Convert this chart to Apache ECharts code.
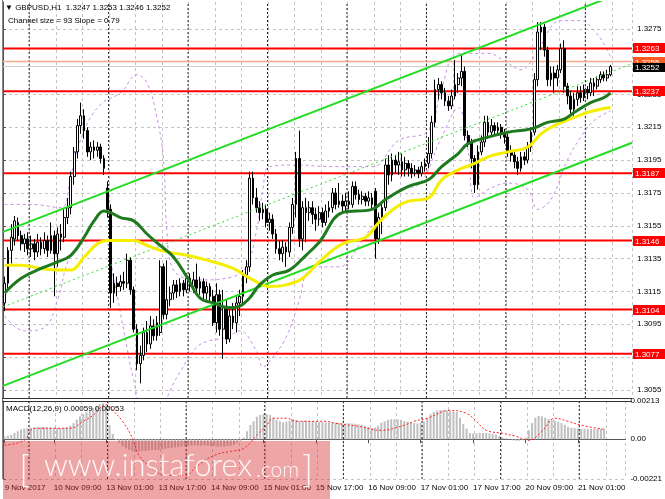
<!DOCTYPE html>
<html>
<head>
<meta charset="utf-8">
<script src="https://cdn.jsdelivr.net/npm/echarts@6/dist/echarts.min.js"></script>
<style>
html,body{margin:0;padding:0;background:#fff}
#chart{width:665px;height:499px}
</style>
</head>
<body>
<div id="chart"></div>
<script>
// GBPUSD H1, 9 Nov .. 21 Nov 2017
// bar 0 = 9 Nov 18:00, one bar per trading hour

var opens = [
  1.3108,1.3120,1.3140,1.3147,1.3157,1.3149,1.3144,1.3147,1.3141,1.3144,
  1.3139,1.3145,1.3141,1.3146,1.3140,1.3149,1.3138,1.3150,1.3148,1.3160,
  1.3166,1.3185,1.3200,1.3216,1.3222,1.3213,1.3200,1.3203,1.3201,1.3203,
  1.3196,1.3178,1.3165,1.3114,1.3120,1.3118,1.3121,1.3120,1.3134,1.3116,
  1.3092,1.3071,1.3076,1.3090,1.3083,1.3094,1.3088,1.3090,1.3130,1.3101,
  1.3110,1.3114,1.3119,1.3115,1.3120,1.3116,1.3123,1.3118,1.3122,1.3117,
  1.3121,1.3114,1.3118,1.3112,1.3096,1.3113,1.3092,1.3106,1.3086,1.3100,
  1.3096,1.3108,1.3112,1.3125,1.3130,1.3184,1.3172,1.3166,1.3163,1.3165,
  1.3157,1.3159,1.3150,1.3141,1.3138,1.3142,1.3139,1.3154,1.3168,1.3196,
  1.3147,1.3166,1.3163,1.3166,1.3162,1.3159,1.3163,1.3157,1.3164,1.3166,
  1.3175,1.3168,1.3170,1.3167,1.3170,1.3168,1.3179,1.3174,1.3171,1.3173,
  1.3170,1.3172,1.3176,1.3147,1.3160,1.3166,1.3192,1.3186,1.3195,1.3192,
  1.3194,1.3189,1.3193,1.3190,1.3187,1.3189,1.3187,1.3191,1.3193,1.3199,
  1.3218,1.3238,1.3241,1.3236,1.3231,1.3228,1.3234,1.3241,1.3245,1.3249,
  1.3210,1.3206,1.3196,1.3180,1.3200,1.3206,1.3218,1.3212,1.3216,1.3213,
  1.3215,1.3211,1.3209,1.3200,1.3198,1.3194,1.3190,1.3197,1.3195,1.3203,
  1.3212,1.3244,1.3273,1.3276,1.3262,1.3244,1.3248,1.3245,1.3250,1.3263,
  1.3240,1.3234,1.3226,1.3232,1.3236,1.3233,1.3238,1.3236,1.3242,1.3240,
  1.3244,1.3247,1.3245,1.3247
];
var closes = [
  1.3120,1.3140,1.3148,1.3158,1.3149,1.3144,1.3147,1.3141,1.3144,1.3139,
  1.3145,1.3141,1.3146,1.3140,1.3149,1.3138,1.3150,1.3148,1.3160,1.3166,
  1.3185,1.3200,1.3216,1.3222,1.3213,1.3200,1.3203,1.3201,1.3203,1.3196,
  1.3190,1.3165,1.3114,1.3120,1.3118,1.3121,1.3120,1.3134,1.3116,1.3092,
  1.3071,1.3076,1.3090,1.3083,1.3094,1.3088,1.3096,1.3130,1.3101,1.3110,
  1.3114,1.3119,1.3115,1.3120,1.3116,1.3123,1.3118,1.3122,1.3117,1.3121,
  1.3114,1.3118,1.3112,1.3096,1.3113,1.3092,1.3106,1.3086,1.3100,1.3096,
  1.3108,1.3112,1.3125,1.3130,1.3184,1.3172,1.3166,1.3163,1.3165,1.3157,
  1.3159,1.3150,1.3141,1.3138,1.3142,1.3139,1.3154,1.3168,1.3196,1.3147,
  1.3166,1.3163,1.3166,1.3162,1.3159,1.3163,1.3157,1.3164,1.3166,1.3175,
  1.3168,1.3170,1.3167,1.3170,1.3168,1.3179,1.3174,1.3171,1.3173,1.3170,
  1.3172,1.3168,1.3147,1.3160,1.3166,1.3192,1.3186,1.3195,1.3192,1.3194,
  1.3189,1.3193,1.3190,1.3187,1.3189,1.3187,1.3191,1.3193,1.3199,1.3218,
  1.3238,1.3241,1.3236,1.3231,1.3228,1.3234,1.3241,1.3245,1.3249,1.3210,
  1.3206,1.3196,1.3180,1.3200,1.3206,1.3218,1.3212,1.3216,1.3213,1.3215,
  1.3211,1.3209,1.3200,1.3198,1.3194,1.3190,1.3197,1.3195,1.3203,1.3212,
  1.3244,1.3273,1.3276,1.3262,1.3244,1.3248,1.3245,1.3250,1.3263,1.3240,
  1.3234,1.3226,1.3232,1.3236,1.3233,1.3238,1.3236,1.3242,1.3240,1.3244,
  1.3247,1.3245,1.3247,1.3252
];
var lows = [
  1.3103,1.3116,1.3132,1.3143,1.3146,1.3140,1.3139,1.3137,1.3136,1.3134,
  1.3136,1.3137,1.3138,1.3136,1.3138,1.3112,1.3130,1.3140,1.3145,1.3156,
  1.3162,1.3180,1.3196,1.3211,1.3208,1.3197,1.3195,1.3196,1.3197,1.3193,
  1.3186,1.3160,1.3105,1.3108,1.3112,1.3115,1.3116,1.3117,1.3113,1.3090,
  1.3067,1.3059,1.3073,1.3078,1.3080,1.3085,1.3085,1.3088,1.3098,1.3098,
  1.3106,1.3110,1.3111,1.3112,1.3112,1.3114,1.3115,1.3114,1.3113,1.3113,
  1.3110,1.3110,1.3108,1.3094,1.3090,1.3088,1.3074,1.3083,1.3084,1.3092,
  1.3090,1.3100,1.3108,1.3120,1.3127,1.3168,1.3163,1.3158,1.3159,1.3154,
  1.3152,1.3147,1.3138,1.3134,1.3133,1.3130,1.3136,1.3150,1.3160,1.3142,
  1.3140,1.3145,1.3158,1.3156,1.3152,1.3155,1.3154,1.3155,1.3160,1.3163,
  1.3165,1.3166,1.3163,1.3164,1.3165,1.3166,1.3171,1.3168,1.3168,1.3167,
  1.3167,1.3165,1.3135,1.3144,1.3150,1.3164,1.3180,1.3182,1.3187,1.3186,
  1.3185,1.3185,1.3185,1.3184,1.3185,1.3184,1.3185,1.3188,1.3190,1.3196,
  1.3215,1.3232,1.3232,1.3228,1.3225,1.3226,1.3232,1.3236,1.3240,1.3207,
  1.3203,1.3190,1.3175,1.3177,1.3198,1.3203,1.3208,1.3209,1.3210,1.3210,
  1.3208,1.3205,1.3197,1.3194,1.3190,1.3186,1.3188,1.3192,1.3193,1.3200,
  1.3210,1.3240,1.3262,1.3258,1.3240,1.3240,1.3236,1.3240,1.3248,1.3236,
  1.3229,1.3222,1.3222,1.3228,1.3230,1.3231,1.3232,1.3234,1.3234,1.3238,
  1.3242,1.3243,1.3243,1.3246
];
var highs = [
  1.3124,1.3142,1.3156,1.3161,1.3160,1.3152,1.3150,1.3151,1.3149,1.3147,
  1.3150,1.3148,1.3151,1.3149,1.3157,1.3152,1.3154,1.3156,1.3165,1.3172,
  1.3188,1.3203,1.3220,1.3230,1.3226,1.3215,1.3206,1.3207,1.3206,1.3205,
  1.3198,1.3182,1.3168,1.3126,1.3124,1.3125,1.3127,1.3138,1.3136,1.3118,
  1.3095,1.3082,1.3093,1.3097,1.3100,1.3098,1.3100,1.3134,1.3132,1.3134,
  1.3118,1.3122,1.3122,1.3123,1.3122,1.3126,1.3126,1.3127,1.3132,1.3124,
  1.3123,1.3121,1.3120,1.3116,1.3120,1.3116,1.3116,1.3110,1.3106,1.3108,
  1.3112,1.3116,1.3128,1.3134,1.3188,1.3188,1.3178,1.3170,1.3169,1.3168,
  1.3163,1.3162,1.3153,1.3146,1.3146,1.3145,1.3157,1.3172,1.3200,1.3213,
  1.3170,1.3172,1.3170,1.3170,1.3166,1.3167,1.3166,1.3168,1.3170,1.3178,
  1.3178,1.3181,1.3174,1.3175,1.3176,1.3182,1.3182,1.3177,1.3176,1.3175,
  1.3176,1.3175,1.3178,1.3163,1.3170,1.3196,1.3198,1.3199,1.3198,1.3200,
  1.3199,1.3197,1.3195,1.3193,1.3192,1.3191,1.3194,1.3196,1.3209,1.3222,
  1.3244,1.3245,1.3243,1.3239,1.3234,1.3238,1.3256,1.3248,1.3259,1.3252,
  1.3213,1.3208,1.3198,1.3204,1.3210,1.3222,1.3222,1.3220,1.3218,1.3218,
  1.3217,1.3214,1.3211,1.3204,1.3201,1.3197,1.3200,1.3200,1.3206,1.3215,
  1.3248,1.3279,1.3279,1.3278,1.3264,1.3252,1.3252,1.3253,1.3266,1.3268,
  1.3242,1.3237,1.3236,1.3240,1.3240,1.3241,1.3240,1.3245,1.3245,1.3246,
  1.3249,1.3249,1.3250,1.3253
];

// indicator lines, [bar, price] read at points along the curves
var maGreen = [[0,1.3114],[5,1.3123],[11,1.3129],[16,1.3133],[20,1.3137],[24,1.3148],[27,1.3158],
  [30,1.3164],[32,1.3163],[35,1.3160],[39,1.3158],[43,1.3150],[47,1.3143],[51,1.3136],[55,1.3124],
  [59,1.3111],[63,1.3108],[68,1.3105],[71,1.3106],[74,1.3111],[77,1.3119],[81,1.3125],[86,1.3128],
  [91,1.3137],[95,1.3145],[102,1.3163],[111,1.3165],[115,1.3171],[122,1.3179],[128,1.3183],
  [132,1.3191],[137,1.3199],[140,1.3205],[146,1.3209],[152,1.3212],[159,1.3214],[164,1.3218],
  [169,1.3220],[172,1.3224],[177,1.3230],[181,1.3233],[183,1.3236]];
var maYellow = [[0,1.3131],[5,1.3131],[11,1.3129],[16,1.3128],[20,1.3128],[24,1.3136],[28,1.3144],
  [31,1.3146],[39,1.3146],[43,1.3143],[47,1.3140],[55,1.3137],[63,1.3133],[69,1.3129],[75,1.3122],
  [80,1.3118],[85,1.3119],[90,1.3123],[95,1.3133],[102,1.3144],[109,1.3148],[113,1.3157],
  [118,1.3166],[122,1.3170],[128,1.3172],[132,1.3183],[137,1.3189],[142,1.3193],[146,1.3197],
  [152,1.3200],[158,1.3203],[162,1.3211],[166,1.3216],[172,1.3221],[176,1.3224],[180,1.3226],
  [183,1.3227]];
var bandUpper = [[0,1.3168],[8,1.3168],[17,1.3166],[20,1.3186],[24,1.3213],[29,1.3229],[35,1.3236],
  [40,1.3247],[43,1.3242],[46,1.3221],[48,1.3195],[49,1.3152],[51,1.3128],[59,1.3122],[69,1.3124],
  [73,1.3130],[76,1.3151],[78,1.3177],[80,1.3191],[88,1.3192],[99,1.3191],[111,1.3191],
  [119,1.3207],[128,1.3213],[132,1.3239],[137,1.3260],[146,1.3260],[152,1.3254],[156,1.3250],
  [160,1.3258],[168,1.3280],[174,1.3280],[178,1.3274],[181,1.3266],[183,1.3258]];
var bandLower = [[0,1.3100],[6,1.3091],[12,1.3093],[16,1.3110],[20,1.3137],[26,1.3146],[30,1.3146],
  [33,1.3122],[36,1.3091],[39,1.3061],[42,1.3043],[47,1.3043],[50,1.3055],[53,1.3066],[58,1.3081],
  [62,1.3085],[67,1.3087],[71,1.3091],[76,1.3079],[78,1.3069],[81,1.3075],[85,1.3087],[89,1.3110],
  [91,1.3126],[93,1.3130],[101,1.3130],[107,1.3143],[113,1.3161],[119,1.3177],[125,1.3180],
  [132,1.3209],[137,1.3227],[140,1.3201],[142,1.3172],[146,1.3177],[152,1.3181],[158,1.3177],
  [161,1.3165],[165,1.3171],[170,1.3195],[174,1.3209],[178,1.3219],[183,1.3225]];

// regression channel, ends at the left and right plot edges
var channelUpper = [[-0.5,1.31513],[189.5,1.32994]];
var channelMiddle = [[-0.5,1.31056],[189.5,1.32537]];
var channelLower = [[-0.5,1.30575],[189.5,1.32056]];

var levels = [1.3263,1.3237,1.3187,1.3146,1.3104,1.3077];
var askLine = 1.3255;
var bidLine = 1.3252;
var priceTicks = [1.3055,1.3075,1.3095,1.3115,1.3135,1.3155,1.3175,1.3195,1.3215,1.3235,1.3255,1.3275];
var priceMin = 1.30501, priceMax = 1.32913;

var macdHist = [
  0.00015,0.00020,0.00025,0.00035,0.00045,0.00055,0.00060,0.00062,0.00064,0.00066,
  0.00067,0.00068,0.00068,0.00067,0.00066,0.00064,0.00063,0.00063,0.00065,0.00068,
  0.00075,0.00090,0.00110,0.00128,0.00140,0.00150,0.00160,0.00172,0.00183,0.00195,
  0.00200,0.00190,0.00080,0.00030,-0.00005,-0.00020,-0.00040,-0.00050,-0.00058,-0.00065,
  -0.00070,-0.00068,-0.00066,-0.00064,-0.00062,-0.00060,-0.00060,-0.00058,-0.00055,-0.00052,
  -0.00050,-0.00048,-0.00045,-0.00042,-0.00040,-0.00038,-0.00036,-0.00035,-0.00034,-0.00035,
  -0.00036,-0.00034,-0.00036,-0.00040,-0.00038,-0.00042,-0.00040,-0.00042,-0.00038,-0.00036,
  -0.00030,-0.00020,-0.00010,0.00010,0.00045,0.00080,0.00100,0.00125,0.00135,0.00140,
  0.00140,0.00135,0.00120,0.00108,0.00100,0.00095,0.00098,0.00102,0.00112,0.00108,
  0.00100,0.00102,0.00104,0.00103,0.00100,0.00098,0.00096,0.00095,0.00094,0.00094,
  0.00093,0.00092,0.00090,0.00090,0.00088,0.00090,0.00088,0.00086,0.00084,0.00080,
  0.00075,0.00070,0.00062,0.00065,0.00075,0.00092,0.00100,0.00108,0.00112,0.00112,
  0.00110,0.00108,0.00102,0.00098,0.00094,0.00090,0.00088,0.00090,0.00098,0.00118,
  0.00140,0.00152,0.00160,0.00163,0.00162,0.00160,0.00158,0.00155,0.00152,0.00120,
  0.00085,0.00060,0.00035,0.00032,0.00033,0.00036,0.00035,0.00034,0.00033,0.00030,
  0.00025,0.00018,0.00010,0.00005,-0.00002,-0.00006,-0.00008,-0.00008,-0.00005,0.00010,
  0.00050,0.00090,0.00120,0.00130,0.00128,0.00120,0.00112,0.00105,0.00102,0.00098,
  0.00090,0.00080,0.00070,0.00064,0.00062,0.00060,0.00058,0.00058,0.00058,0.00057,
  0.00058,0.00058,0.00058,0.00059
];
var macdSignal = [[0,-0.00033],[6,-0.00006],[9,0.00061],[15,0.00061],[20,0.00061],[24,0.00100],
  [27,0.00133],[31,0.00194],[33,0.00161],[36,0.00100],[39,0.00006],[41,-0.00089],[45,-0.00161],
  [49,-0.00200],[55,-0.00200],[59,-0.00144],[64,-0.00089],[69,-0.00067],[73,-0.00050],[77,0.00022],
  [80,0.00078],[82,0.00117],[86,0.00117],[89,0.00100],[98,0.00100],[101,0.00089],[108,0.00072],
  [115,0.00050],[122,0.00078],[125,0.00100],[129,0.00117],[136,0.00161],[141,0.00144],[144,0.00100],
  [147,0.00050],[152,0.00033],[156,0.00017],[160,-0.00006],[164,0.00044],[168,0.00117],[172,0.00100],
  [176,0.00078],[183,0.00055]];
var macdTicks = [-0.00221,0,0.00213];
var macdMin = -0.00221, macdMax = 0.00213;

var timeLabels = ['9 Nov 2017','10 Nov 09:00','13 Nov 01:00','13 Nov 17:00','14 Nov 09:00','15 Nov 01:00',
  '15 Nov 17:00','16 Nov 09:00','17 Nov 01:00','17 Nov 17:00','20 Nov 09:00','21 Nov 01:00'];
var timeLabelBars = [0,15,31,47,63,79,95,111,127,143,159,175];
var daySeparators = [7.4,31.4,55.4,79.4,103.4,127.4,151.4,175.4];

var BARS = 190;
var FONT = 'Tahoma,"Liberation Sans",Arial,sans-serif';
var FS = 8;

var cats = [];
for (var i = 0; i < BARS; i++) cats.push(String(i));

var candles = [];
for (var i = 0; i < opens.length; i++) candles.push([opens[i], closes[i], lows[i], highs[i]]);

// overlay series sit on a value axis 0..190, bar i centred at i+0.5
function shift(pts) {
  return pts.map(function (p) { return [p[0] + 0.5, p[1]]; });
}
function isLabelBar(idx) { return timeLabelBars.indexOf(idx) >= 0; }

var gridLine = { color: '#c4c4c4', type: [3, 3], width: 1 };

function plainLine(xAxisIndex, yAxisIndex, data, style, extra) {
  var s = { type: 'line', xAxisIndex: xAxisIndex, yAxisIndex: yAxisIndex, data: data,
            symbol: 'none', silent: true, lineStyle: style };
  if (extra) for (var k in extra) s[k] = extra[k];
  return s;
}

var series = [];

// day separators, both panes
daySeparators.forEach(function (v) {
  series.push(plainLine(1, 0, [[v + 0.5, priceMin], [v + 0.5, priceMax]], { color: '#222', type: [2, 2], width: 1 }));
  series.push(plainLine(3, 1, [[v + 0.5, macdMin], [v + 0.5, macdMax]], { color: '#222', type: [2, 2], width: 1 }));
});

series.push(plainLine(1, 0, shift(bandUpper), { color: '#c98de8', width: 1, type: [3, 3] }, { smooth: 0.4 }));
series.push(plainLine(1, 0, shift(bandLower), { color: '#c98de8', width: 1, type: [3, 3] }, { smooth: 0.4 }));

// horizontal levels
levels.forEach(function (v) {
  series.push(plainLine(1, 0, [[0, v], [BARS, v]], { color: '#ff0000', width: 2 }, { z: 3 }));
});
series.push(plainLine(1, 0, [[0, askLine], [BARS, askLine]], { color: '#f6a88c', width: 1.5 }, { z: 3 }));
series.push(plainLine(1, 0, [[0, bidLine], [BARS, bidLine]], { color: '#cfcfcf', width: 1 }, { z: 3 }));

series.push({ type: 'candlestick', xAxisIndex: 0, yAxisIndex: 0, data: candles, barWidth: '68%', z: 5,
  itemStyle: { color: '#ffffff', color0: '#000000', borderColor: '#000000', borderColor0: '#000000', borderWidth: 1 } });

series.push(plainLine(1, 0, shift(channelMiddle), { color: '#33dd33', width: 1, type: [2, 3] }, { z: 6 }));
series.push(plainLine(1, 0, shift(channelUpper), { color: '#22dd22', width: 2 }, { z: 6 }));
series.push(plainLine(1, 0, shift(channelLower), { color: '#22dd22', width: 2 }, { z: 6 }));
series.push(plainLine(1, 0, shift(maYellow), { color: '#f6ee00', width: 3 }, { smooth: 0.4, z: 6 }));
series.push(plainLine(1, 0, shift(maGreen), { color: '#1f7a1f', width: 3 }, { smooth: 0.4, z: 6 }));

series.push({ type: 'bar', xAxisIndex: 2, yAxisIndex: 1, data: macdHist, barWidth: '62%',
  itemStyle: { color: '#c0c0c0' } });
series.push(plainLine(3, 1, shift(macdSignal), { color: '#ff2020', width: 1, type: [2, 2] }, { smooth: 0.4, z: 6 }));

var graphics = [
  { type: 'line', shape: { x1: 2.5, y1: 0, x2: 2.5, y2: 479 }, style: { stroke: '#888', lineWidth: 1 }, z: 50 },
  { type: 'line', shape: { x1: 2, y1: 398.5, x2: 632, y2: 398.5 }, style: { stroke: '#333', lineWidth: 1 }, z: 50 },
  { type: 'line', shape: { x1: 2, y1: 401.5, x2: 632, y2: 401.5 }, style: { stroke: '#333', lineWidth: 1 }, z: 50 },
  { type: 'text', left: 5, top: 4, z: 60,
    style: { text: '\u25BC GBPUSD,H1  1.3247 1.3253 1.3246 1.3252', fontFamily: FONT, fontSize: FS, fill: '#000' } },
  { type: 'text', left: 8, top: 17, z: 60,
    style: { text: 'Channel size = 93 Slope = 0.79', fontFamily: FONT, fontSize: FS, fill: '#000' } },
  { type: 'text', left: 6, top: 405, z: 60,
    style: { text: 'MACD(12,26,9) 0.00059 0.00053', fontFamily: FONT, fontSize: FS, fill: '#000' } },
  // watermark
  { type: 'rect', shape: { x: 3, y: 441, width: 327, height: 58 }, style: { fill: 'rgba(214,40,40,0.42)' }, z: 100 },
  { type: 'text', x: 19, y: 470, z: 101,
    style: { text: '[', fontFamily: 'Lato', fontWeight: 300, fontSize: 38, fill: 'rgba(255,255,255,0.92)', verticalAlign: 'middle' } },
  { type: 'text', x: 44, y: 466, z: 101,
    style: { text: 'www.instaforex', fontFamily: 'Lato', fontWeight: 300, fontSize: 31, fill: 'rgba(255,255,255,0.92)', verticalAlign: 'middle' } },
  { type: 'text', x: 256, y: 470, z: 101,
    style: { text: '.com', fontFamily: 'Lato', fontWeight: 300, fontSize: 21, fill: 'rgba(255,255,255,0.92)', verticalAlign: 'middle' } },
  { type: 'text', x: 302, y: 470, z: 101,
    style: { text: ']', fontFamily: 'Lato', fontWeight: 300, fontSize: 38, fill: 'rgba(255,255,255,0.92)', verticalAlign: 'middle' } }
];

var chart = echarts.init(document.getElementById('chart'));

var option = {
  animation: false,
  backgroundColor: '#fff',
  grid: [
    { left: 3, right: 33, top: 2, height: 396 },
    { left: 3, right: 33, top: 401, height: 78 }
  ],
  xAxis: [
    { type: 'category', gridIndex: 0, data: cats, boundaryGap: true,
      axisLine: { show: false }, axisTick: { show: false }, axisLabel: { show: false }, splitLine: { show: false } },
    { type: 'value', gridIndex: 0, min: 0, max: BARS, interval: 8,
      axisLine: { show: false }, axisTick: { show: false }, axisLabel: { show: false },
      splitLine: { show: true, lineStyle: gridLine } },
    { type: 'category', gridIndex: 1, data: cats, boundaryGap: true, position: 'bottom',
      axisLine: { show: true, lineStyle: { color: '#555' } },
      axisTick: { show: true, interval: function (i) { return isLabelBar(i); }, alignWithLabel: true, length: 4, lineStyle: { color: '#555' } },
      axisLabel: { show: true, interval: function (i) { return isLabelBar(i); }, showMinLabel: true, hideOverlap: false,
        align: 'left', margin: 5, fontFamily: FONT, fontSize: FS, color: '#000',
        formatter: function (v, idx) { var k = timeLabelBars.indexOf(idx); return k >= 0 ? timeLabels[k] : ''; } },
      splitLine: { show: false } },
    { type: 'value', gridIndex: 1, min: 0, max: BARS, interval: 8,
      axisLine: { show: false }, axisTick: { show: false }, axisLabel: { show: false },
      splitLine: { show: true, lineStyle: gridLine } }
  ],
  yAxis: [
    { type: 'value', gridIndex: 0, position: 'right', min: priceMin, max: priceMax,
      axisLine: { show: true, lineStyle: { color: '#555' } },
      axisTick: { show: true, customValues: priceTicks, length: 3, lineStyle: { color: '#555' } },
      axisLabel: { show: true, customValues: priceTicks, margin: 5, fontFamily: FONT, fontSize: FS, color: '#000',
        formatter: function (v) { return v.toFixed(4); } },
      splitLine: { show: true, lineStyle: gridLine } },
    { type: 'value', gridIndex: 1, position: 'right', min: macdMin, max: macdMax,
      axisLine: { show: true, lineStyle: { color: '#555' } },
      axisTick: { show: true, customValues: macdTicks, length: 3, lineStyle: { color: '#555' } },
      axisLabel: { show: true, customValues: macdTicks, showMinLabel: true, showMaxLabel: true, margin: 5,
        fontFamily: FONT, fontSize: FS, color: '#000',
        formatter: function (v) { return v === 0 ? '0.00' : v.toFixed(5); } },
      splitLine: { show: true, lineStyle: gridLine } }
  ],
  series: series,
  graphic: graphics
};

chart.setOption(option);

// price tags on the right scale, placed through the y axis
function yPix(v) { return Math.round(chart.convertToPixel({ yAxisIndex: 0 }, v)); }
function tag(v, bg, z, id, top, h) {
  var y = yPix(v);
  graphics.push({ type: 'rect', id: id + 'r', z: z, shape: { x: 633, y: y - top, width: 32, height: h }, style: { fill: bg } });
  graphics.push({ type: 'text', id: id + 't', z: z + 1, x: 635, y: y + 0.5,
    style: { text: v.toFixed(4), fill: '#fff', fontFamily: FONT, fontSize: FS, verticalAlign: 'middle' } });
}
levels.forEach(function (v, k) { tag(v, '#ff0000', 70, 'lv' + k, 5, 10); });
// ask tag sits under the bid tag, only its upper part shows
tag(askLine, '#ff5a1e', 76, 'ask', 5, 10);
tag(bidLine, '#000000', 84, 'bid', 4, 9);
chart.setOption({ graphic: graphics });
</script>
</body>
</html>
